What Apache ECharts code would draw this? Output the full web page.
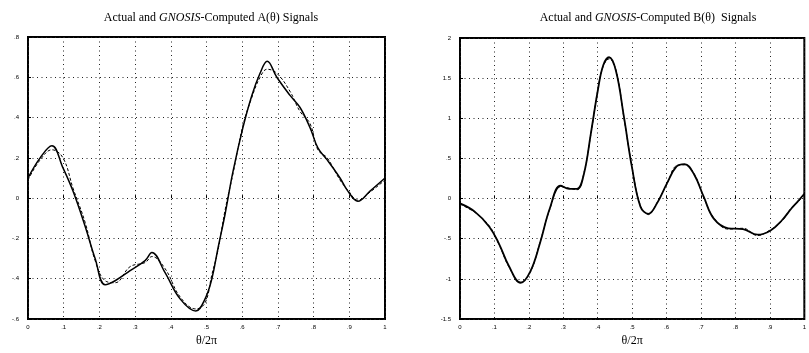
<!DOCTYPE html>
<html>
<head>
<meta charset="utf-8">
<script src="https://cdn.jsdelivr.net/npm/echarts@6/dist/echarts.min.js"></script>
<style>
  html, body { margin: 0; padding: 0; background: #fff; }
  #chart { width: 809px; height: 353px; }
</style>
</head>
<body>
<div id="chart"></div>
<script>
  // A(theta): x positions (theta/2pi) and signal values
  var aTheta    = [0, .034, .067, .098, .126, .16, .188, .216, .244, .286, .328, .347, .384, .426, .47, .496, .515, .532, .552, .574, .602, .627, .65, .67, .697, .734, .762, .79, .812, .838, .874, .896, .924, .958, 1];
  var aActual   = [.10, .20, .26, .15, .035, -.14, -.30, -.43, -.41, -.36, -.31, -.27, -.37, -.50, -.56, -.50, -.40, -.25, -.08, .13, .35, .51, .62, .68, .60, .51, .45, .35, .25, .19, .10, .035, -.015, .035, .10];
  var aComputed = [.09, .19, .24, .20, .05, -.12, -.31, -.41, -.42, -.34, -.32, -.29, -.35, -.49, -.55, -.52, -.38, -.26, -.06, .12, .36, .50, .60, .64, .62, .53, .43, .37, .24, .20, .09, .04, -.01, .03, .09];

  // B(theta)
  var bTheta    = [0, .042, .085, .113, .142, .176, .204, .232, .261, .292, .317, .34, .36, .38, .40, .416, .433, .453, .476, .499, .524, .547, .572, .601, .629, .652, .68, .708, .737, .779, .822, .864, .901, .935, .963, .98, 1];
  var bActual   = [-.06, -.16, -.35, -.56, -.84, -1.05, -.91, -.56, -.12, .16, .12, .12, .31, .81, 1.34, 1.66, 1.76, 1.59, 1.02, .40, -.10, -.19, -.06, .19, .40, .43, .30, .02, -.25, -.37, -.38, -.45, -.40, -.27, -.12, -.04, .06];
  var bComputed = [-.07, -.17, -.34, -.57, -.85, -1.04, -.92, -.55, -.13, .15, .13, .11, .32, .80, 1.35, 1.65, 1.74, 1.60, 1.01, .41, -.09, -.20, -.05, .18, .41, .42, .31, .01, -.24, -.38, -.37, -.46, -.39, -.28, -.11, -.05, .05];

  var chart = echarts.init(document.getElementById('chart'));

  function pairs(xs, ys){
    var out = [];
    for (var i = 0; i < xs.length; i++) out.push([xs[i], ys[i]]);
    return out;
  }
  function fmt(v){
    var s = String(+v.toFixed(2));
    return s.replace(/^0\./, '.').replace(/^-0\./, '-.');
  }

  var serif = 'Liberation Serif';
  var rich = { i: { fontStyle: 'italic', fontFamily: serif, fontSize: 12, color: '#000' } };

  function xAx(idx){
    return {
      gridIndex: idx, type: 'value', min: 0, max: 1, interval: 0.1,
      name: 'θ/2π', nameLocation: 'middle', nameGap: 14,
      nameTextStyle: { fontFamily: serif, fontSize: 12, color: '#000' },
      axisLine: { show: false },
      axisTick: { inside: true, length: 3, lineStyle: { color: '#000' } },
      axisLabel: { fontSize: 6, color: '#000', margin: 5, formatter: fmt },
      splitLine: { show: true, lineStyle: { color: '#222', type: [1, 3.5], width: 1 } }
    };
  }
  function yAx(idx, min, max, step){
    return {
      gridIndex: idx, type: 'value', min: min, max: max, interval: step,
      axisLine: { show: false },
      axisTick: { inside: true, length: 3, lineStyle: { color: '#000' } },
      axisLabel: { fontSize: 6, color: '#000', margin: 9, formatter: fmt },
      splitLine: { show: true, lineStyle: { color: '#222', type: [1, 3.5], width: 1 } }
    };
  }
  function line(idx, data, dashed, w){
    return {
      type: 'line', xAxisIndex: idx, yAxisIndex: idx, data: data,
      smooth: 0.4, showSymbol: false, animation: false,
      lineStyle: { color: '#000', width: w, type: dashed ? [3, 2] : 'solid' }
    };
  }

  chart.setOption({
    animation: false,
    title: [
      { text: 'Actual and {i|GNOSIS}-Computed A(θ) Signals', left: 206, top: 7, textAlign: 'center',
        textStyle: { fontFamily: serif, fontSize: 12, fontWeight: 'normal', color: '#000', rich: rich } },
      { text: 'Actual and {i|GNOSIS}-Computed B(θ)  Signals', left: 643, top: 7, textAlign: 'center',
        textStyle: { fontFamily: serif, fontSize: 12, fontWeight: 'normal', color: '#000', rich: rich } }
    ],
    grid: [
      { left: 28, top: 37, width: 357, height: 282, show: true, borderColor: '#000', borderWidth: 2 },
      { left: 460, top: 38, width: 353, height: 281, show: true, borderColor: '#000', borderWidth: 2 }
    ],
    xAxis: [xAx(0), xAx(1)],
    yAxis: [yAx(0, -0.6, 0.8, 0.2), yAx(1, -1.5, 2, 0.5)],
    series: [
      line(0, pairs(aTheta, aComputed), true, 1),
      line(0, pairs(aTheta, aActual), false, 1.5),
      line(1, pairs(bTheta, bComputed), true, 1),
      line(1, pairs(bTheta, bActual), false, 1.8)
    ]
  });
</script>
</body>
</html>
